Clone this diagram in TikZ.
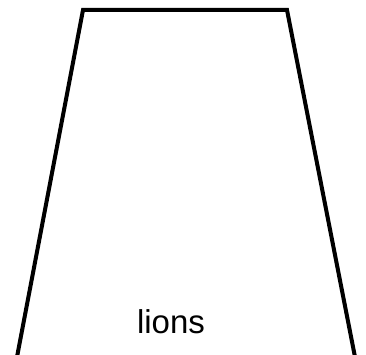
\documentclass[tikz,border=0pt]{standalone}
\usepackage{fontspec}
\setmainfont{Liberation Sans}
\usepackage{tikz}
\usetikzlibrary{positioning}
\tikzset{
  wall/.style={draw=black, line width=4pt, line join=miter},
  lbl/.style={font=\fontsize{33}{40}\selectfont, inner sep=0pt, anchor=base},
}

\begin{document}
\begin{tikzpicture}[x=1pt, y=-1pt]
    \useasboundingbox (0,0) rectangle (366,355);
    \coordinate (bl) at (17,357);
    \coordinate (tl) at (83,10);
    \coordinate (tr) at (287,10);
    \coordinate (br) at (355,357);
    \node[lbl] (name) at (171,333) {lions};

    \draw[wall] (bl) -- (tl) -- (tr) -- (br);
  \end{tikzpicture}
\end{document}
